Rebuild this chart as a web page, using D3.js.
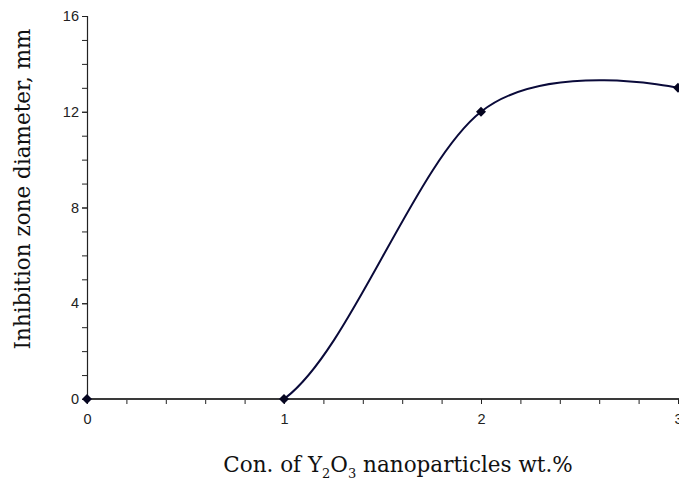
<!DOCTYPE html>
<html><head><meta charset="utf-8">
<script src="https://cdn.jsdelivr.net/npm/d3@7"></script>
<style>body{margin:0;background:#fff}svg{display:block}</style>
</head><body>
<svg id="c" width="679" height="484"></svg>
<script>
const xValues = [0, 1, 2, 3];
const yValues = [0, 0, 12, 13];
const xTickLabels = [0, 1, 2, 3];
const yTickLabels = [0, 4, 8, 12, 16];
const xLabel = ["Con. of Y", "2", "O", "3", " nanoparticles wt.%"];
const yLabel = "Inhibition zone diameter, mm";

const svg = d3.select("#c");
const x = d3.scaleLinear().domain([0, 3]).range([87, 678]);
const y = d3.scaleLinear().domain([0, 16]).range([399, 16]);
const data = xValues.map((v, i) => ({x: v, y: yValues[i]}));

svg.append("defs").append("clipPath").attr("id", "clip")
  .append("rect").attr("x", 0).attr("y", 0).attr("width", 679).attr("height", y(0) - 1);

const tickFont = "Liberation Sans, Arial, sans-serif";

// y axis
const yAxis = svg.append("g").attr("transform", `translate(${x(0)},0)`);
yAxis.append("g").call(d3.axisLeft(y).tickValues(d3.range(0, 17, 1)).tickSize(5).tickFormat(""))
  .call(g => g.select(".domain").remove())
  .call(g => g.selectAll("line").attr("stroke", "#222"));
yAxis.append("g").call(d3.axisLeft(y).tickValues(yTickLabels).tickSize(5).tickPadding(3))
  .call(g => g.select(".domain").attr("stroke", "#222").attr("stroke-width", 1.2))
  .call(g => g.selectAll("line").attr("stroke", "#222"))
  .call(g => g.selectAll("text").attr("font-family", tickFont).attr("font-size", 14.5).attr("fill", "#222"));

// x axis
const xAxis = svg.append("g").attr("transform", `translate(0,${y(0)})`);
xAxis.append("g").call(d3.axisBottom(x).tickValues(d3.range(0, 3.01, 0.2)).tickSize(5).tickFormat(""))
  .call(g => g.select(".domain").remove())
  .call(g => g.selectAll("line").attr("stroke", "#222"));
xAxis.append("g").call(d3.axisBottom(x).tickValues(xTickLabels).tickSize(5).tickPadding(10).tickFormat(d3.format("d")))
  .call(g => g.select(".domain").attr("stroke", "#3a3a3a").attr("stroke-width", 2).attr("d", `M${x(0)},0H679`))
  .call(g => g.selectAll("line").attr("stroke", "#222"))
  .call(g => g.selectAll("text").attr("font-family", tickFont).attr("font-size", 14.5).attr("fill", "#222"));

// curve
const line = d3.line().x(d => x(d.x)).y(d => y(d.y)).curve(d3.curveCardinal.tension(0));
svg.append("path").datum(data).attr("d", line).attr("fill", "none")
  .attr("stroke", "#0a0a3a").attr("stroke-width", 2).attr("clip-path", "url(#clip)");

// markers
svg.selectAll(".m").data(data).join("path").attr("class", "m")
  .attr("transform", d => `translate(${x(d.x)},${y(d.y)})`)
  .attr("d", d3.symbol(d3.symbolDiamond2, 64))
  .attr("fill", "#050520");

// labels
const xl = svg.append("text").attr("x", 398).attr("y", 472).attr("text-anchor", "middle")
  .attr("font-family", "DejaVu Serif, serif").attr("font-size", 21.5).attr("fill", "#111");
xLabel.forEach((t, i) => {
  const ts = xl.append("tspan").text(t);
  if (i === 1 || i === 3) ts.attr("font-size", 13).attr("dy", 6);
  if (i === 2 || i === 4) ts.attr("dy", -6);
});
svg.append("text").attr("transform", "translate(30,189) rotate(-90)").attr("text-anchor", "middle")
  .attr("font-family", "DejaVu Serif, serif").attr("font-size", 21.5).attr("fill", "#111").text(yLabel);
</script>
</body></html>
